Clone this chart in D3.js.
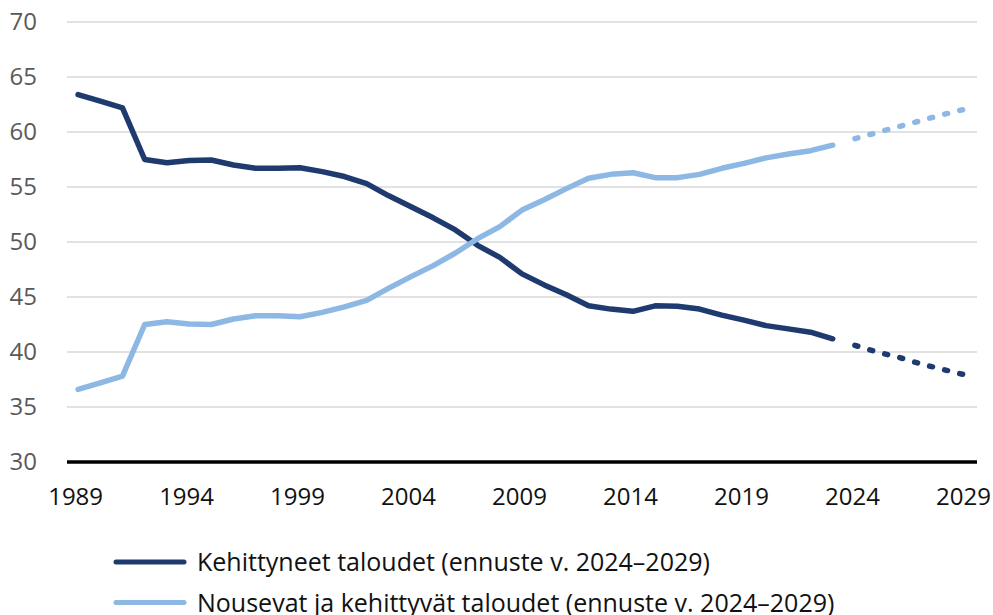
<!DOCTYPE html>
<html>
<head>
<meta charset="utf-8">
<script src="https://cdn.jsdelivr.net/npm/d3@7"></script>
<style>
  body { margin: 0; background: #fff; }
  text { font-family: "Open Sans", sans-serif; }
</style>
</head>
<body>
<script>
// share of world GDP, %
const years = d3.range(1989, 2030);
const histYears = d3.range(1989, 2024);
const fcYears = d3.range(2024, 2030);

const advanced = [63.4, 62.8, 62.2, 57.5, 57.2, 57.4, 57.45, 57.0, 56.7, 56.7,
  56.75, 56.4, 55.95, 55.3, 54.2, 53.2, 52.2, 51.1, 49.7, 48.6,
  47.1, 46.1, 45.2, 44.2, 43.9, 43.7, 44.2, 44.15, 43.9, 43.35,
  42.9, 42.4, 42.1, 41.8, 41.2];
const advancedForecast = [40.6, 40.0, 39.5, 38.9, 38.4, 37.9];

const emerging = [36.6, 37.2, 37.8, 42.5, 42.75, 42.55, 42.5, 43.0, 43.3, 43.3,
  43.2, 43.6, 44.1, 44.7, 45.8, 46.85, 47.85, 49.0, 50.3, 51.4,
  52.9, 53.85, 54.85, 55.8, 56.15, 56.3, 55.85, 55.85, 56.15, 56.7,
  57.15, 57.65, 58.0, 58.3, 58.8];
const emergingForecast = [59.4, 59.95, 60.5, 61.05, 61.6, 62.1];

const yTicks = [30, 35, 40, 45, 50, 55, 60, 65, 70];
const xTicks = [1989, 1994, 1999, 2004, 2009, 2014, 2019, 2024, 2029];

const legendLabels = [
  "Kehittyneet taloudet (ennuste v. 2024–2029)",
  "Nousevat ja kehittyvät taloudet (ennuste v. 2024–2029)"
];
const colors = ["#1f3a6e", "#8eb8e4"];

const width = 993, height = 615;
const plot = {left: 67, right: 977, top: 22, bottom: 462};

const svg = d3.select("body").append("svg")
  .attr("width", width)
  .attr("height", height);

const x = d3.scalePoint()
  .domain(years)
  .range([plot.left, plot.right])
  .padding(0.5);

const y = d3.scaleLinear()
  .domain([30, 70])
  .range([plot.bottom, plot.top]);

// gridlines
svg.append("g")
  .selectAll("line")
  .data(yTicks.filter(d => d > 30))
  .enter().append("line")
  .attr("x1", plot.left)
  .attr("x2", plot.right)
  .attr("y1", d => y(d))
  .attr("y2", d => y(d))
  .attr("stroke", "#d9d9d9")
  .attr("stroke-width", 1.5);

// y axis labels
const yAxis = svg.append("g")
  .attr("transform", "translate(37,0)")
  .call(d3.axisLeft(y).tickValues(yTicks).tickSize(0).tickPadding(0));
yAxis.select(".domain").remove();
yAxis.selectAll("text")
  .style("font-family", "Open Sans")
  .style("font-size", "24px")
  .attr("fill", "#595959");

// x axis
const xAxis = svg.append("g")
  .attr("transform", "translate(0," + plot.bottom + ")")
  .call(d3.axisBottom(x).tickValues(xTicks).tickSize(0).tickPadding(0));
xAxis.select(".domain")
  .attr("d", "M" + plot.left + ",0H" + plot.right)
  .attr("stroke", "#000")
  .attr("stroke-width", 3.5);
xAxis.selectAll("text")
  .style("font-family", "Open Sans")
  .style("font-size", "24px")
  .attr("fill", "#111")
  .attr("dx", -3)
  .attr("y", 26)
  .attr("dy", "0.71em");

const line = d3.line()
  .x(d => x(d[0]))
  .y(d => y(d[1]));

const series = [
  {hist: advanced, fc: advancedForecast},
  {hist: emerging, fc: emergingForecast}
];

series.forEach((s, i) => {
  svg.append("path")
    .datum(histYears.map((yr, j) => [yr, s.hist[j]]))
    .attr("d", line)
    .attr("fill", "none")
    .attr("stroke", colors[i])
    .attr("stroke-width", 5.5)
    .attr("stroke-linejoin", "round")
    .attr("stroke-linecap", "round");

  svg.append("path")
    .datum(fcYears.map((yr, j) => [yr, s.fc[j]]))
    .attr("d", line)
    .attr("fill", "none")
    .attr("stroke", colors[i])
    .attr("stroke-width", 5.5)
    .attr("stroke-linecap", "round")
    .attr("stroke-dasharray", "3,12.5");
});

// legend
const legend = svg.append("g");
legendLabels.forEach((label, i) => {
  const ly = 562 + i * 40.5;
  legend.append("line")
    .attr("x1", 116).attr("x2", 184)
    .attr("y1", ly).attr("y2", ly)
    .attr("stroke", colors[i])
    .attr("stroke-width", 5)
    .attr("stroke-linecap", "round");
  legend.append("text")
    .attr("x", 197)
    .attr("y", ly)
    .attr("dy", "0.36em")
    .style("font-size", "25px")
    .attr("fill", "#111")
    .text(label);
});
</script>
</body>
</html>
